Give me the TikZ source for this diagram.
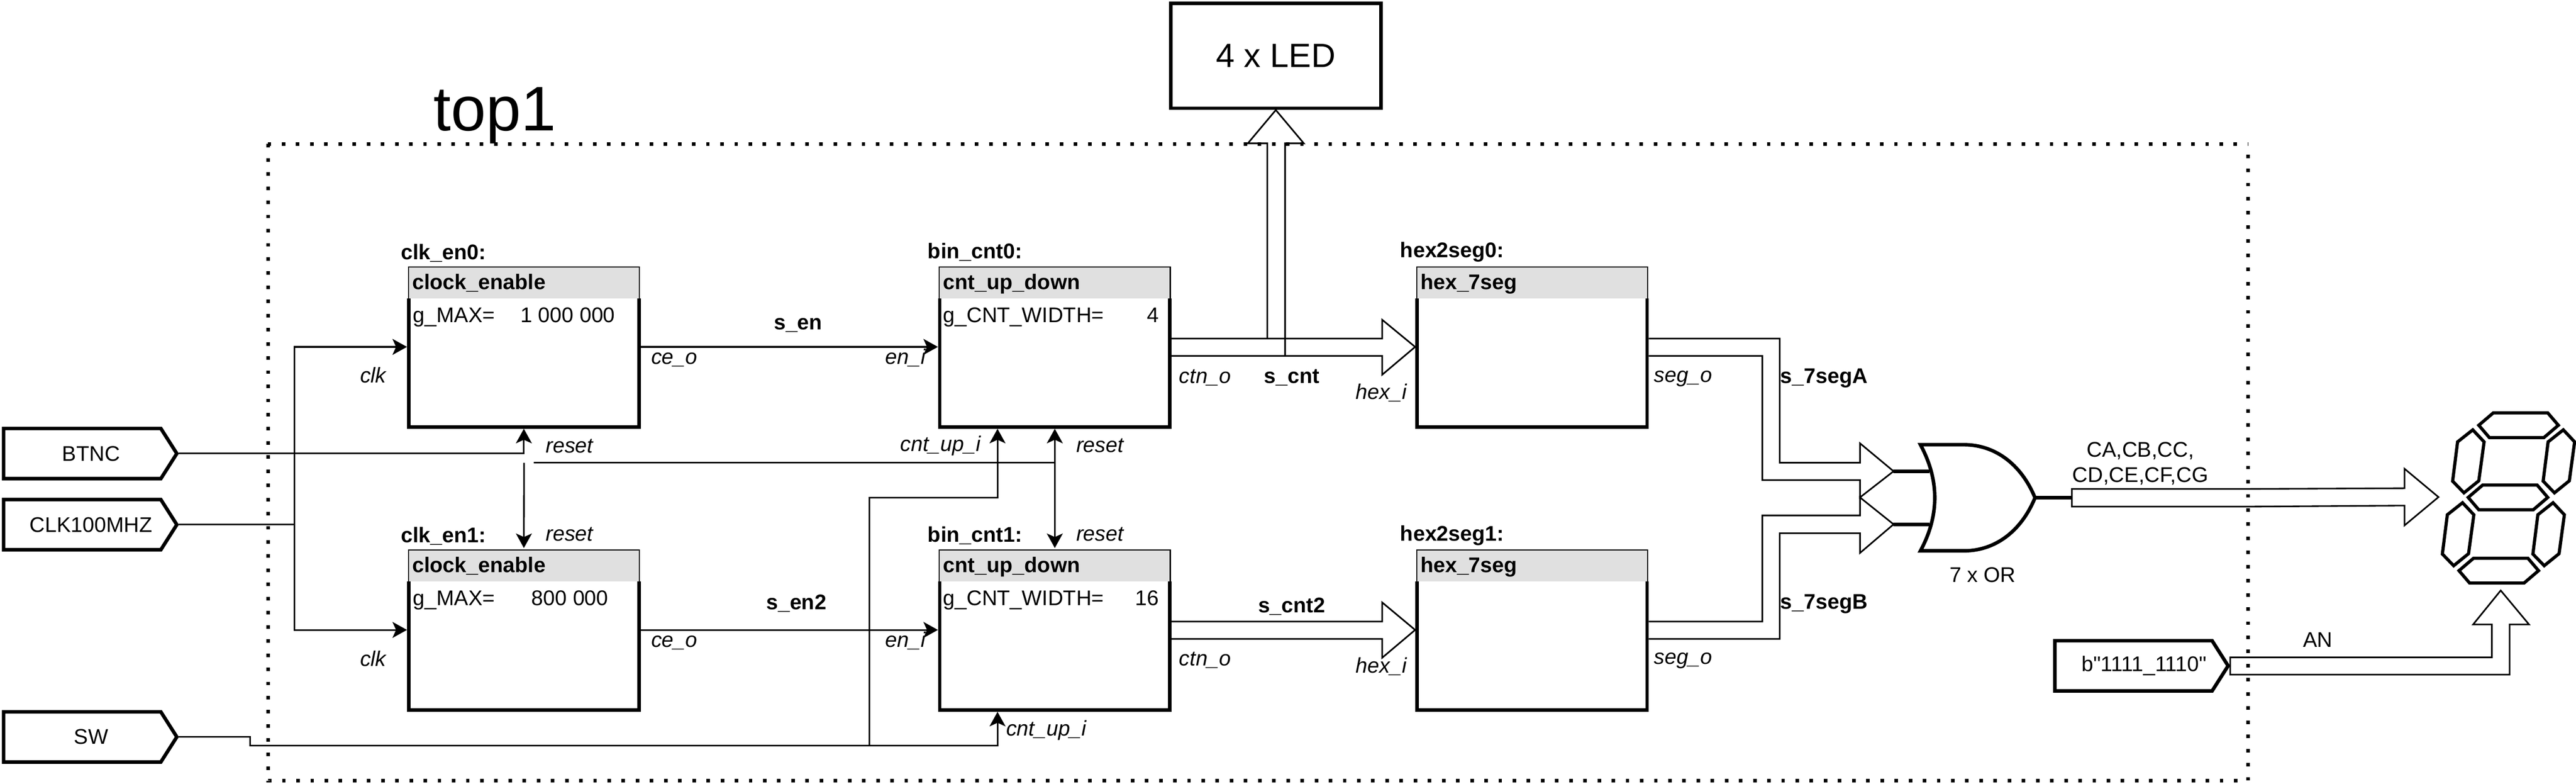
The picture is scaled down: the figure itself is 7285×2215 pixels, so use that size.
\documentclass[tikz,border=0pt]{standalone}
\usepackage{fontspec}
\setmainfont{Liberation Sans}
\newfontfamily\rawfont{Liberation Sans}
\usetikzlibrary{arrows.meta,calc,shapes.symbols}

\tikzset{
    every node/.style={inner sep=0pt,font=\fontsize{6}{7.1}\selectfont},
    lbl/.style={},
    lblb/.style={font=\fontsize{6}{7.1}\selectfont\bfseries},
    lbli/.style={font=\fontsize{6}{7.1}\selectfont\itshape},
    wire/.style={line width=0.45pt},
    arr/.style={-{Stealth[length=4.1pt,width=4.5pt,inset=1pt]}},
    bus/.style={line width=0.45pt,miter limit=10},
    pin/.style={line width=1pt},
    blockbox/.style={outer sep=0.5pt,minimum width=65.1pt,minimum height=45.3pt},
    blockhead/.style={anchor=north west,outer sep=0pt,fill=black!12,minimum height=9pt,text width=63.1pt,inner xsep=1.1pt,
        text height=5pt,text depth=1.3pt,font=\fontsize{6}{7.1}\selectfont\bfseries},
    portin/.style={draw,line width=1pt,signal,signal to=east,signal pointer angle=115,
        minimum width=49pt,minimum height=14.2pt,anchor=east,execute at begin node={\hspace*{5pt}}},
    segment/.style={line width=0.9pt,miter limit=10},
    framedots/.style={line width=1pt,dash pattern=on 1pt off 3pt}
}

\begin{document}
\begin{tikzpicture}[x=0.1pt,y=0.1pt,yscale=-1]
    \useasboundingbox (0,0) rectangle (7285,2215);

    %top level frame
    \draw[framedots] (758,407) -- (758,2207) -- (6357,2207) -- (6357,407) (757,407) -- (6357,407);
    \node[anchor=base west,font=\fontsize{17.8}{20}\selectfont] (topname) at (1224,370) {top1};

    %ports
    \node[portin] (btnc) at (506,1282) {BTNC};
    \node[portin] (clkin) at (506,1483) {CLK100MHZ};
    \node[portin] (swin) at (506,2083) {SW};
    \node[portin,execute at begin node={\hspace*{1pt}\rawfont}] (anval) at (6307,1882) {b"1111\_1110"};

    %blocks
    \node[blockbox] (clkA) at (1481.5,980.5) {};
    \node[blockbox] (clkB) at (1481.5,1780.5) {};
    \node[blockbox] (cntA) at (2983,980.5) {};
    \node[blockbox] (cntB) at (2983,1780.5) {};
    \node[blockbox] (hexA) at (4332.5,980.5) {};
    \node[blockbox] (hexB) at (4332.5,1780.5) {};
    \node[draw,line width=1pt,minimum width=59.4pt,minimum height=29.6pt,font=\fontsize{9.5}{11}\selectfont] (ledbox) at (3608,158) {4 x LED};

    %block headers and outlines
    \foreach \b/\t in {clkA/clock\_enable,clkB/clock\_enable,cntA/cnt\_up\_down,cntB/cnt\_up\_down,hexA/hex\_7seg,hexB/hex\_7seg}{
        \node[blockhead] (\b-head) at ($(\b.north west)+(4,5)$) {\t};
        \draw[line width=0.3pt] (\b-head.south west) |- (\b-head.north east) -- (\b-head.south east);
        \draw[line width=1pt] (\b-head.south west) ++(1,0) -- ($(\b.south west)+(5,-5)$) -- ($(\b.south east)+(-5,-5)$) -- ++(0,-363);
    }

    %free ends of the wires
    \coordinate (clkjoint) at (832,1483);
    \coordinate (rstA) at (1482,1308);
    \coordinate (rstB) at (1509,1308);
    \coordinate (swjoint) at (2458,2107);
    \coordinate (orinA) at (5457,1332);
    \coordinate (orinB) at (5457,1482);
    \coordinate (ortipA) at (5355,1332);
    \coordinate (ortipB) at (5355,1482);
    \coordinate (orout) at (5755,1407);
    \coordinate (orbus) at (5859,1407);
    \coordinate (segtipA) at (6896,1405);
    \coordinate (segtipB) at (7072,1669);

    %Straight Lines
    \draw[wire] (clkin.east) -- (clkjoint);
    \draw[wire,arr] (clkjoint) |- (clkA.west);
    \draw[wire,arr] (clkjoint) |- (clkB.west);
    \draw[wire,arr] (btnc.east) -| (clkA.south);
    \draw[wire,arr] (rstA) -- (clkB.north);
    \draw[wire] (rstB) -- (rstB -| cntA.south);
    \draw[wire,{Stealth[length=4.1pt,width=4.5pt,inset=1pt]}-{Stealth[length=4.1pt,width=4.5pt,inset=1pt]}] (cntA.south) -- (cntB.north);
    \draw[wire,arr] (clkA.east) -- (cntA.west);
    \draw[wire,arr] (clkB.east) -- (cntB.west);
    \draw[wire,arr] (swin.east) -- (708,2083) -- (708,2107) -| ($(cntB.south)+(-162,0)$);
    \draw[wire,arr] (swjoint) -- (2458,1407) -| ($(cntA.south)+(-162,0)$);

    %Bus arrows
    \draw[bus] ($(cntA.east)+(0,-23.5)$) -- (3909,957) -- (3909,904) -- (hexA.west) -- (3909,1059) -- (3909,1006) -- ($(cntA.east)+(0,25.5)$);
    \draw[bus] ($(cntB.east)+(0,-23.5)$) -- (3909,1757) -- (3909,1703) -- (hexB.west) -- (3909,1859) -- (3909,1806) -- ($(cntB.east)+(0,25.5)$);
    \draw[bus] (3584,957) -- (3584,405) -- (3529,405) -- (ledbox.south) -- (3687,405) -- (3634,405) -- (3634,1006);
    \draw[bus] ($(hexA.east)+(0,-23.5)$) -| (5033,1308) -- (5260,1308) -- (5260,1253) -- (ortipA) -- (5260,1406) -- (5260,1357) -- (4984,1357) |- ($(hexA.east)+(0,25.5)$);
    \draw[bus] ($(hexB.east)+(0,-23.5)$) -| (4984,1457) -- (5260,1457) -- (5260,1406) -- (ortipB) -- (5260,1563) -- (5260,1507) -- (5033,1507) |- ($(hexB.east)+(0,25.5)$);
    \draw[bus] ($(orbus)+(0,-25)$) -- (6357,1382) -- (6800,1380) -- (6800,1325) -- (segtipA) -- (6800,1485) -- (6800,1429) -- (6357,1432) -- ($(orbus)+(0,25)$) -- cycle;
    \draw[bus] ($(anval.east)+(0,-24)$) -| (7047,1765) -- (6994,1765) -- (segtipB) -- (7152,1765) -- (7097,1765) |- ($(anval.east)+(0,25)$) -- cycle;

    %OR gate
    \draw[pin] (5431,1257) -- (5554,1257) .. controls (5640,1257) and (5715,1310) .. (orout) .. controls (5715,1504) and (5640,1557) .. (5554,1557) -- (5431,1557) .. controls (5485,1457) and (5485,1357) .. cycle;
    \draw[pin] (ortipA) -- (orinA);
    \draw[pin] (ortipB) -- (orinB);
    \draw[pin] (orout) -- (orbus);

    %7 segment display
    \foreach \sx/\sy in {7010/1202,6980/1406,6954/1613}
        \draw[segment] (\sx,\sy) -- ++(41,-35) -- ++(154,0) -- ++(30,35) -- ++(-41,35) -- ++(-154,0) -- cycle;
    \foreach \sx/\sy in {6993/1215,7249/1215,6964/1421,7220/1421}
        \draw[segment] (\sx,\sy) -- ++(32,34) -- ++(-15,110) -- ++(-42,34) -- ++(-32,-33) -- ++(14,-111) -- cycle;

    % Text Node
    \node[lblb,anchor=west] (nmclkA) at (1132,715) {clk\_en0:};
    \node[lblb,anchor=west] (nmclkB) at (1132,1516) {clk\_en1:};
    \node[lblb,anchor=west] (nmcntA) at (2622,713) {bin\_cnt0:};
    \node[lblb,anchor=west] (nmcntB) at (2622,1514) {bin\_cnt1:};
    \node[lblb,anchor=west] (nmhexA) at (3958,713) {hex2seg0:};
    \node[lblb,anchor=west] (nmhexB) at (3958,1514) {hex2seg1:};
    % Text Node
    \node[lbl,anchor=base west] (gmaxA) at (1166,911) {g\_MAX=};
    \node[lbl,anchor=base] (gmaxvalA) at (1606,911) {1 000 000};
    \node[lbl,anchor=base west] (gmaxB) at (1166,1711) {g\_MAX=};
    \node[lbl,anchor=base] (gmaxvalB) at (1612,1711) {800 000};
    \node[lbl,anchor=base west] (gwidthA) at (2665,911) {g\_CNT\_WIDTH=};
    \node[lbl,anchor=base east] (gwidthvalA) at (3279,911) {4};
    \node[lbl,anchor=base west] (gwidthB) at (2665,1711) {g\_CNT\_WIDTH=};
    \node[lbl,anchor=base east] (gwidthvalB) at (3279,1711) {16};
    % Text Node
    \node[lblb] (senA) at (2257,919) {s\_en};
    \node[lblb] (senB) at (2252,1706) {s\_en2};
    \node[lblb] (scntA) at (3653,1067) {s\_cnt};
    \node[lblb] (scntB) at (3653,1714) {s\_cnt2};
    \node[lblb,anchor=west] (ssegA) at (5033,1069) {s\_7segA};
    \node[lblb,anchor=west] (ssegB) at (5033,1707) {s\_7segB};
    % Text Node
    \node[lbli,anchor=east] (clkpinA) at (1094,1061) {clk};
    \node[lbli,anchor=east] (clkpinB) at (1094,1862) {clk};
    \node[lbli,anchor=west] (ceoA) at (1840,1017) {ce\_o};
    \node[lbli,anchor=west] (ceoB) at (1840,1817) {ce\_o};
    \node[lbli,anchor=east] (eniA) at (2619,1011) {en\_i};
    \node[lbli,anchor=east] (eniB) at (2619,1811) {en\_i};
    \node[lbli,anchor=west] (rsttxtA) at (1542,1261) {reset};
    \node[lbli,anchor=west] (rsttxtB) at (1542,1510) {reset};
    \node[lbli,anchor=west] (rsttxtC) at (3042,1260) {reset};
    \node[lbli,anchor=west] (rsttxtD) at (3042,1510) {reset};
    \node[lbli,anchor=east] (upA) at (2775,1260) {cnt\_up\_i};
    \node[lbli,anchor=west] (upB) at (2844,2065) {cnt\_up\_i};
    \node[lbli,anchor=west] (ctnA) at (3333,1067) {ctn\_o};
    \node[lbli,anchor=west] (ctnB) at (3333,1866) {ctn\_o};
    \node[lbli,anchor=east] (hexiA) at (3980,1110) {hex\_i};
    \node[lbli,anchor=east] (hexiB) at (3980,1884) {hex\_i};
    \node[lbli,anchor=west] (segoA) at (4676,1071) {seg\_o};
    \node[lbli,anchor=west] (segoB) at (4676,1868) {seg\_o};
    % Text Node
    \node[lbl] (ortxt) at (5607,1625) {7 x OR};
    \node[lbl,align=center] (cathodes) at (6053,1310) {CA,CB,CC,\\CD,CE,CF,CG};
    \node[lbl] (anodes) at (6555,1808) {AN};
\end{tikzpicture}
\end{document}
